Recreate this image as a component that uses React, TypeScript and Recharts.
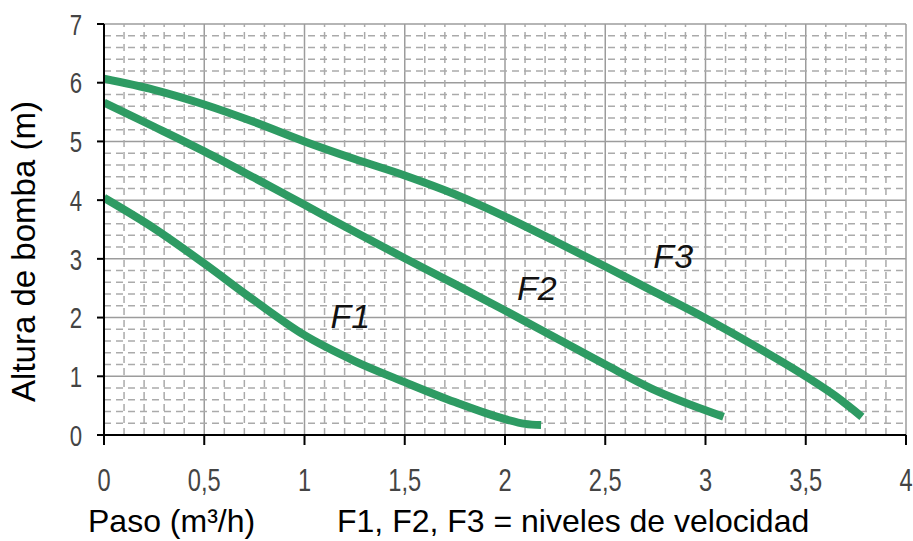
import React from 'react';
import { LineChart, Line, XAxis, YAxis, CartesianGrid, ReferenceLine, ReferenceDot, Label } from 'recharts';

// Pump curves: head (m) vs flow (m³/h) for the three speed levels
const f1X = [0, 0.25, 0.5, 0.75, 1, 1.25, 1.5, 1.75, 2, 2.1, 2.18];
const f1Y = [4.04, 3.52, 2.92, 2.29, 1.7, 1.26, 0.9, 0.56, 0.27, 0.19, 0.17];

const f2X = [0, 0.25, 0.5, 0.75, 1, 1.25, 1.5, 1.75, 2, 2.25, 2.5, 2.75, 3, 3.09];
const f2Y = [5.66, 5.25, 4.83, 4.38, 3.92, 3.46, 3.01, 2.57, 2.12, 1.66, 1.2, 0.76, 0.42, 0.31];

const f3X = [0, 0.25, 0.5, 0.75, 1, 1.25, 1.5, 1.75, 2, 2.25, 2.5, 2.75, 3, 3.25, 3.5, 3.65, 3.78];
const f3Y = [6.07, 5.88, 5.63, 5.33, 5.0, 4.7, 4.42, 4.1, 3.72, 3.3, 2.87, 2.43, 1.99, 1.51, 1.0, 0.66, 0.31];

const xTicks = [0, 0.5, 1, 1.5, 2, 2.5, 3, 3.5, 4];
const yTicks = [0, 1, 2, 3, 4, 5, 6, 7];

// minor grid (dashed)
const xMinor = [
  0.1, 0.2, 0.3, 0.4, 0.6, 0.7, 0.8, 0.9, 1.1, 1.2, 1.3, 1.4, 1.6, 1.7, 1.8, 1.9,
  2.1, 2.2, 2.3, 2.4, 2.6, 2.7, 2.8, 2.9, 3.1, 3.2, 3.3, 3.4, 3.6, 3.7, 3.8, 3.9,
];
const yMinor = [
  0.2, 0.4, 0.6, 0.8, 1.2, 1.4, 1.6, 1.8, 2.2, 2.4, 2.6, 2.8, 3.2, 3.4, 3.6, 3.8,
  4.2, 4.4, 4.6, 4.8, 5.2, 5.4, 5.6, 5.8, 6.2, 6.4, 6.6, 6.8,
];

const curveLabels = [
  { name: 'F1', x: 1.13, y: 1.82 },
  { name: 'F2', x: 2.06, y: 2.3 },
  { name: 'F3', x: 2.74, y: 2.85 },
];

const xTitle = 'Paso (m³/h)';
const noteText = 'F1, F2, F3 = niveles de velocidad';
const yTitle = 'Altura de bomba (m)';

const toPoints = (xs: number[], ys: number[]) => xs.map((x, i) => ({ x, y: ys[i] }));
const f1Data = toPoints(f1X, f1Y);
const f2Data = toPoints(f2X, f2Y);
const f3Data = toPoints(f3X, f3Y);

const GREEN = '#2e9b63';
const SANS = "'Liberation Sans', Arial, sans-serif";

const fmt = (v: number) => String(v).replace('.', ',');

// the original uses a thin condensed face, so squeeze a regular sans horizontally
const NarrowTick = (props: any) => {
  const { x, y, payload, textAnchor, fontSize, dy } = props;
  return (
    <text
      transform={`translate(${x},${y}) scale(0.74,1)`}
      textAnchor={textAnchor}
      dy={dy}
      fontFamily={SANS}
      fontSize={fontSize}
      fill="#444"
    >
      {fmt(payload.value)}
    </text>
  );
};

export default function App() {
  return (
    <div style={{ position: 'absolute', left: 0, top: 0, width: 913, height: 541, background: '#fff' }}>
      <LineChart width={913} height={541} margin={{ top: 24, right: 7, bottom: 0, left: 0 }}>
        <CartesianGrid stroke="#9c9c9c" strokeWidth={1.5} />
        {xMinor.map((v) => (
          <ReferenceLine key={'x' + v} x={v} stroke="#aaaaaa" strokeWidth={1.5} strokeDasharray="7 5" />
        ))}
        {yMinor.map((v) => (
          <ReferenceLine key={'y' + v} y={v} stroke="#aaaaaa" strokeWidth={1.5} strokeDasharray="7 5" />
        ))}
        <XAxis
          type="number"
          dataKey="x"
          domain={[0, 4]}
          ticks={xTicks}
          height={106}
          axisLine={{ stroke: '#000', strokeWidth: 2 }}
          tickLine={{ stroke: '#000', strokeWidth: 2 }}
          tickSize={10}
          tickMargin={23}
          tick={<NarrowTick fontSize={32} dy="0.71em" />}
          allowDataOverflow
        >
          <Label
            content={({ viewBox }: any) => (
              <g fontFamily={SANS} fontSize={32} fill="#000">
                <text x={viewBox.x - 16} y={viewBox.y + 97}>{xTitle}</text>
                <text x={viewBox.x + 233} y={viewBox.y + 97}>{noteText}</text>
              </g>
            )}
          />
        </XAxis>
        <YAxis
          type="number"
          domain={[0, 7]}
          ticks={yTicks}
          width={104}
          axisLine={{ stroke: '#000', strokeWidth: 2 }}
          tickLine={{ stroke: '#000', strokeWidth: 2 }}
          tickSize={7}
          tickMargin={15}
          tick={<NarrowTick fontSize={30} dy="0.355em" />}
          allowDataOverflow
        >
          <Label
            content={({ viewBox }: any) => {
              const cx = viewBox.x + 35;
              const cy = viewBox.y + viewBox.height / 2 + 22;
              return (
                <text
                  x={cx}
                  y={cy}
                  transform={`rotate(-90, ${cx}, ${cy})`}
                  textAnchor="middle"
                  fontFamily={SANS}
                  fontSize={33}
                  fill="#000"
                >
                  {yTitle}
                </text>
              );
            }}
          />
        </YAxis>
        <Line data={f1Data} dataKey="y" type="monotone" stroke={GREEN} strokeWidth={8} dot={false} isAnimationActive={false} />
        <Line data={f2Data} dataKey="y" type="monotone" stroke={GREEN} strokeWidth={8} dot={false} isAnimationActive={false} />
        <Line data={f3Data} dataKey="y" type="monotone" stroke={GREEN} strokeWidth={8} dot={false} isAnimationActive={false} />
        {curveLabels.map((c) => (
          <ReferenceDot
            key={c.name}
            x={c.x}
            y={c.y}
            r={0}
            fill="none"
            stroke="none"
            label={{
              content: ({ viewBox }: any) => (
                <text
                  x={viewBox.x}
                  y={viewBox.y}
                  fontFamily={SANS}
                  fontStyle="italic"
                  fontSize={34}
                  fill="#111"
                >
                  {c.name}
                </text>
              ),
            }}
          />
        ))}
      </LineChart>
    </div>
  );
}
